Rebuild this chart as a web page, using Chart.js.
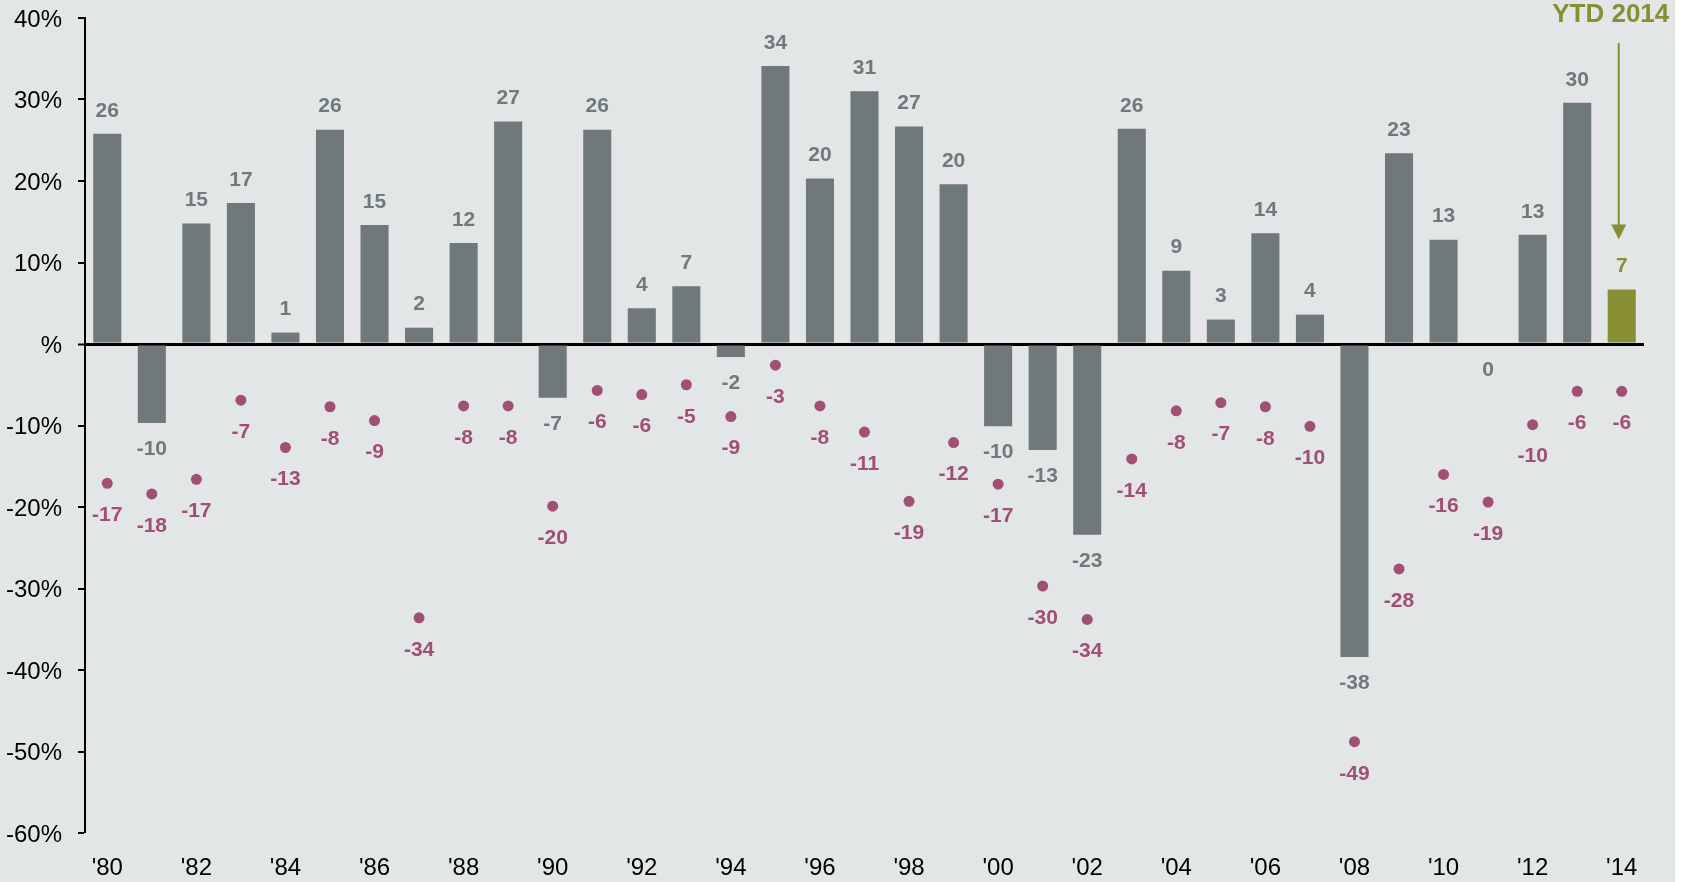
<!DOCTYPE html>
<html>
<head>
<meta charset="utf-8">
<script src="https://cdn.jsdelivr.net/npm/chart.js@4"></script>
<style>
  html, body { margin: 0; padding: 0; background: #ffffff; }
  #wrap { position: relative; width: 1687px; height: 882px; }
  canvas { display: block; }
</style>
</head>
<body>
<div id="wrap"><canvas id="c" width="1687" height="882"></canvas></div>
<script>
// ---- data ----
const years = [1980,1981,1982,1983,1984,1985,1986,1987,1988,1989,1990,1991,1992,1993,1994,1995,1996,1997,1998,1999,2000,2001,2002,2003,2004,2005,2006,2007,2008,2009,2010,2011,2012,2013,2014];
const calendarReturns = [25.8,-9.7,14.8,17.3,1.4,26.3,14.6,2.0,12.4,27.3,-6.6,26.3,4.4,7.1,-1.6,34.1,20.3,31.0,26.7,19.6,-10.1,-13.0,-23.4,26.4,9.0,3.0,13.6,3.6,-38.4,23.4,12.8,0.0,13.4,29.6,6.7];
const intraYearDeclines = [-17.1,-18.4,-16.6,-6.9,-12.7,-7.7,-9.4,-33.6,-7.6,-7.6,-19.9,-5.7,-6.2,-5.0,-8.9,-2.6,-7.6,-10.8,-19.3,-12.1,-17.2,-29.7,-33.8,-14.1,-8.2,-7.2,-7.7,-10.1,-48.8,-27.6,-16.0,-19.4,-9.9,-5.8,-5.8];
const yTicks = [40,30,20,10,0,-10,-20,-30,-40,-50,-60];
const annotationText = 'YTD 2014';

// ---- styles ----
const BG = '#e2e6e7';
const BAR = '#6f797a';
const OLIVE = '#878e34';
const PINK = '#a14f73';
const LABEL_GRAY = '#6f7b7b';
const FONT = '"Liberation Sans", Arial, Helvetica, sans-serif';

const xLabels = years.map(y => "'" + String(y).slice(2));
const barColors = years.map((y, i) => i === years.length - 1 ? OLIVE : BAR);

const bgPlugin = {
  id: 'bg',
  beforeDraw(chart) {
    const ctx = chart.ctx;
    ctx.save();
    ctx.fillStyle = '#ffffff';
    ctx.fillRect(0, 0, chart.width, chart.height);
    ctx.fillStyle = BG;
    ctx.fillRect(0, 0, 1675, chart.height);
    ctx.restore();
  }
};

const labelPlugin = {
  id: 'labels',
  afterDatasetsDraw(chart) {
    const ctx = chart.ctx;
    ctx.save();
    ctx.textAlign = 'center';
    ctx.textBaseline = 'middle';
    ctx.font = 'bold 21px ' + FONT;
    const barMeta = chart.getDatasetMeta(0);
    let lastLabelY = 0, lastX = 0;
    barMeta.data.forEach((el, i) => {
      const v = calendarReturns[i];
      const txt = String(Math.round(v));
      const y = v > 0 ? el.y - 23 : el.y + 26;
      ctx.fillStyle = i === years.length - 1 ? OLIVE : LABEL_GRAY;
      ctx.fillText(txt, el.x, y);
      if (i === years.length - 1) { lastLabelY = y; lastX = el.x; }
    });
    const ptMeta = chart.getDatasetMeta(1);
    ctx.fillStyle = PINK;
    ptMeta.data.forEach((el, i) => {
      const v = intraYearDeclines[i];
      ctx.fillText(String(Math.round(v)), el.x, el.y + 32);
    });
    // YTD annotation
    ctx.fillStyle = OLIVE;
    ctx.font = 'bold 26px ' + FONT;
    ctx.fillText(annotationText, lastX - 11, 15);
    const ax = lastX - 3;
    const tip = lastLabelY - 27;
    ctx.strokeStyle = OLIVE;
    ctx.lineWidth = 2;
    ctx.beginPath();
    ctx.moveTo(ax, 43);
    ctx.lineTo(ax, tip - 12);
    ctx.stroke();
    ctx.beginPath();
    ctx.moveTo(ax - 7.5, tip - 15);
    ctx.lineTo(ax + 7.5, tip - 15);
    ctx.lineTo(ax, tip);
    ctx.closePath();
    ctx.fill();
    ctx.restore();
  }
};

new Chart(document.getElementById('c'), {
  data: {
    labels: xLabels,
    datasets: [
      {
        type: 'bar',
        data: calendarReturns,
        backgroundColor: barColors,
        borderWidth: 0,
        categoryPercentage: 1.0,
        barPercentage: 0.63,
        order: 2
      },
      {
        type: 'line',
        data: intraYearDeclines,
        showLine: false,
        pointRadius: 5.5,
        pointHoverRadius: 5.5,
        pointBackgroundColor: PINK,
        pointBorderWidth: 0,
        borderColor: PINK,
        order: 1
      }
    ]
  },
  options: {
    responsive: false,
    animation: false,
    events: [],
    layout: { padding: { top: 18, right: 43, left: 0, bottom: 0 } },
    plugins: { legend: { display: false }, tooltip: { enabled: false } },
    scales: {
      x: {
        type: 'category',
        offset: true,
        grid: { display: false, drawTicks: false },
        border: { display: false },
        ticks: {
          autoSkip: false,
          maxRotation: 0,
          padding: 21,
          color: '#000',
          font: { family: FONT, size: 24 },
          callback: function(v, i) { return years[i] % 2 === 0 ? xLabels[i] : ''; }
        },
        afterFit(scale) {
          scale.height = 49;
          scale.paddingLeft = 0; scale.paddingRight = 0;
        }
      },
      y: {
        min: -60,
        max: 40,
        afterBuildTicks(scale) { scale.ticks = yTicks.map(v => ({ value: v })); },
        grid: {
          drawOnChartArea: true,
          color: ctx => ctx.tick && ctx.tick.value === 0 ? '#000' : 'rgba(0,0,0,0)',
          lineWidth: ctx => ctx.tick && ctx.tick.value === 0 ? 3 : 0,
          tickColor: '#000',
          tickWidth: 2,
          tickLength: 7
        },
        border: { display: true, color: '#000', width: 2 },
        ticks: {
          padding: 16,
          labelOffset: 2,
          color: '#000',
          font: { family: FONT, size: 24 },
          callback: v => v === 0 ? '%' : v + '%'
        },
        afterFit(scale) {
          scale.width = 85;
          scale.paddingTop = 0; scale.paddingBottom = 0;
        }
      }
    }
  },
  plugins: [bgPlugin, labelPlugin]
});
</script>
</body>
</html>
